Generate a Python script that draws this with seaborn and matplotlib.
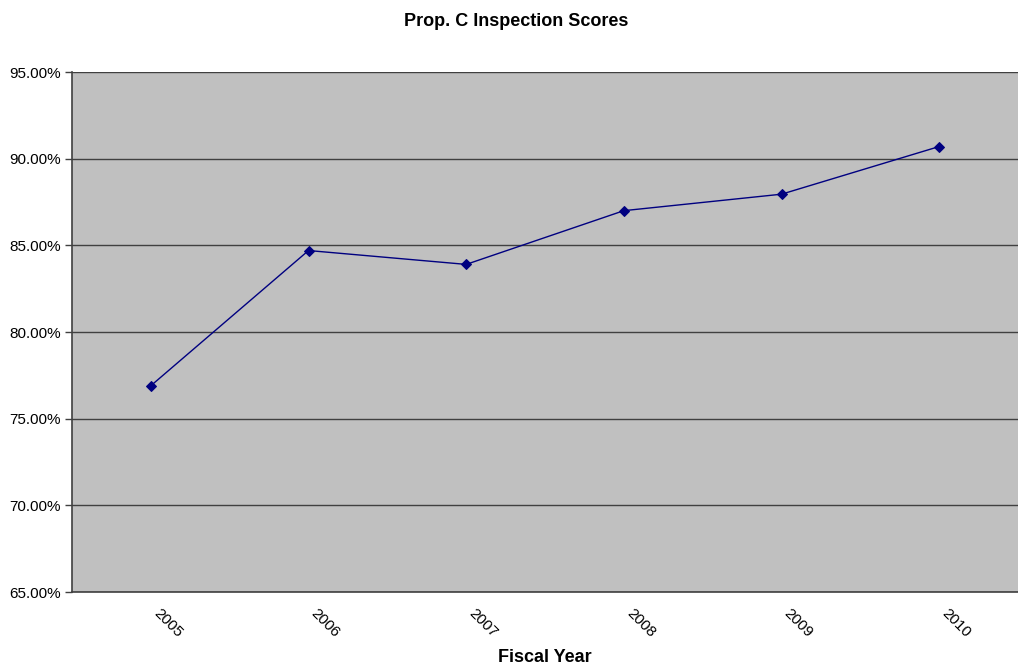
import numpy as np
import pandas as pd
import seaborn as sns
import matplotlib.pyplot as plt
from matplotlib.ticker import FixedLocator, PercentFormatter
from matplotlib.transforms import ScaledTranslation

years = ["2005", "2006", "2007", "2008", "2009", "2010"]
scores = [76.9, 84.7, 83.9, 87.0, 87.95, 90.7]

df = pd.DataFrame({"pos": np.arange(len(years)), "year": years, "score": scores})

sns.set_style("white")
plt.rcParams["font.family"] = ["Liberation Sans", "DejaVu Sans"]
plt.rcParams["text.color"] = "black"
plt.rcParams["axes.labelcolor"] = "black"
plt.rcParams["xtick.color"] = "black"
plt.rcParams["ytick.color"] = "black"

fig = plt.figure(figsize=(10.18, 6.66), dpi=100)
ax = fig.add_axes([72 / 1018, 1 - 592 / 666, 1 - 72 / 1018, 520 / 666])
ax.set_facecolor("#c0c0c0")

sns.lineplot(data=df, x="pos", y="score", ax=ax, color="#000080", linewidth=1,
             marker="D", markersize=5, markeredgecolor="#000080")

ax.set_xlim(-0.5, len(years) - 0.5)
ax.set_ylim(65, 95)
ax.set_yticks(np.arange(65, 96, 5))
ax.yaxis.set_major_formatter(PercentFormatter(decimals=2))
ax.grid(axis="y", color="#404040", linewidth=1)
ax.set_axisbelow(True)

# labels at centers, tick marks at category boundaries
ax.set_xticks(df["pos"])
ax.set_xticklabels(years, rotation=-45, ha="left", va="center", rotation_mode="anchor")
ax.xaxis.set_minor_locator(FixedLocator(np.arange(0.5, len(years) - 0.5, 1)))
ax.tick_params(axis="x", which="major", length=0, pad=14, labelsize=11)
ax.tick_params(axis="x", which="minor", length=5, width=1, color="#404040", direction="out")
ax.tick_params(axis="y", length=5, width=1, color="#404040", direction="out", labelsize=11, pad=3)
ax.tick_params(axis="both", bottom=True, left=True)
shift = ScaledTranslation(5 / 100, 0, fig.dpi_scale_trans)
for lbl in ax.get_xticklabels():
    lbl.set_transform(lbl.get_transform() + shift)

for side in ["top", "right"]:
    ax.spines[side].set_visible(False)
for side in ["left", "bottom"]:
    ax.spines[side].set_color("#404040")
    ax.spines[side].set_linewidth(1.2)

ax.set_xlabel("Fiscal Year", fontsize=13, fontweight="bold", labelpad=6)
ax.set_ylabel("")
fig.text(0.507, 0.968, "Prop. C Inspection Scores", ha="center", va="center",
         fontsize=13, fontweight="bold")

fig.savefig("out.png", dpi=100)
